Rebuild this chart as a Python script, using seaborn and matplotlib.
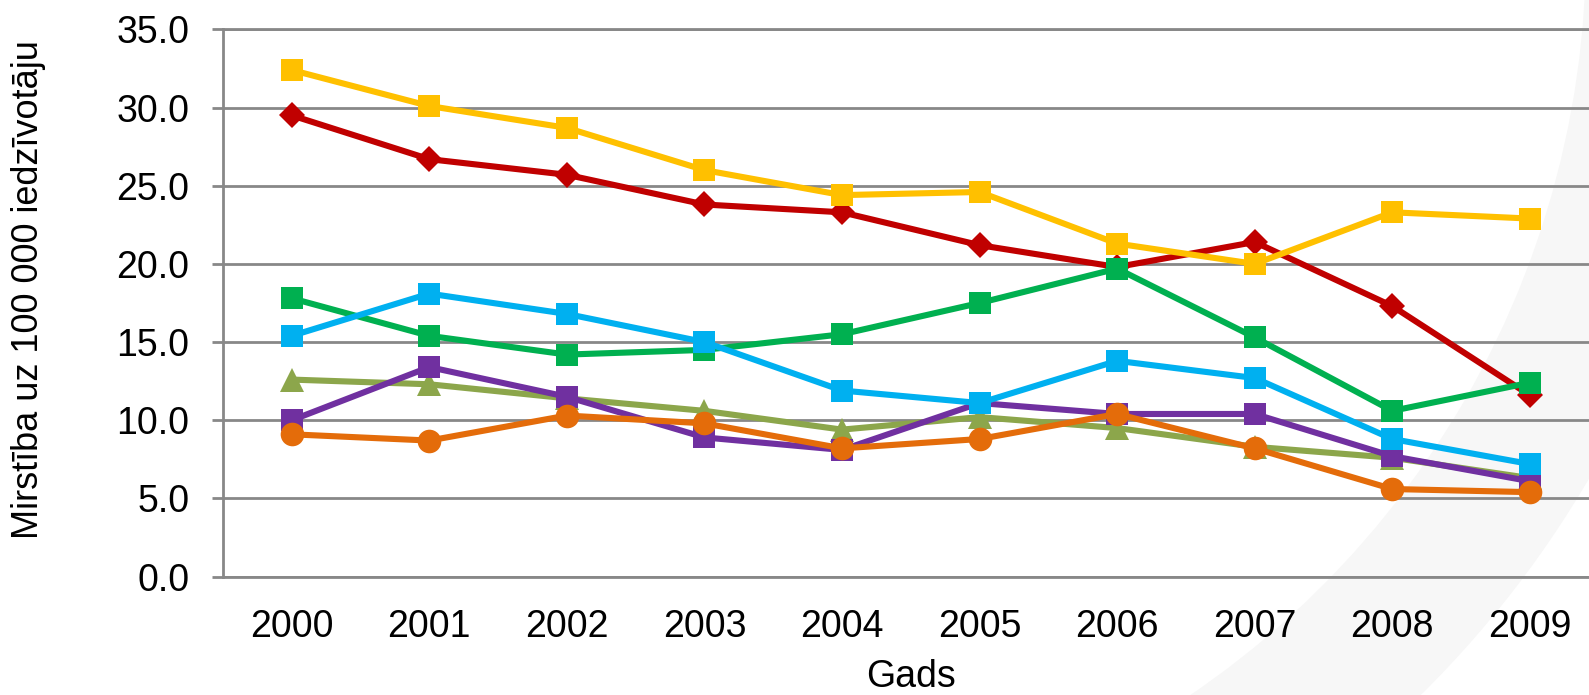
import matplotlib
matplotlib.use("Agg")
import matplotlib.pyplot as plt
import numpy as np
import pandas as pd
import seaborn as sns
from matplotlib.patches import Wedge
from matplotlib.transforms import IdentityTransform
from matplotlib.ticker import FormatStrFormatter

# Mortality per 100 000 inhabitants, 2000-2009
years = [2000, 2001, 2002, 2003, 2004, 2005, 2006, 2007, 2008, 2009]

red_series = [29.5, 26.7, 25.7, 23.8, 23.3, 21.2, 19.8, 21.4, 17.3, 11.6]
yellow_series = [32.4, 30.1, 28.7, 26.0, 24.4, 24.6, 21.3, 20.0, 23.3, 22.9]
green_series = [17.8, 15.4, 14.2, 14.5, 15.5, 17.5, 19.7, 15.3, 10.6, 12.4]
olive_series = [12.6, 12.3, 11.4, 10.6, 9.4, 10.2, 9.5, 8.3, 7.6, 6.3]
purple_series = [10.0, 13.4, 11.5, 8.9, 8.1, 11.1, 10.4, 10.4, 7.7, 6.1]
blue_series = [15.4, 18.1, 16.8, 15.0, 11.9, 11.1, 13.8, 12.7, 8.8, 7.2]
orange_series = [9.1, 8.7, 10.3, 9.8, 8.2, 8.8, 10.4, 8.2, 5.6, 5.4]

y_ticks = [0, 5, 10, 15, 20, 25, 30, 35]
y_label = "Mirstība uz 100 000 iedzīvotāju"
x_label = "Gads"

# (values, colour, marker, marker size) in drawing order
series = [
    (red_series, "#C00000", "D", 13.5),
    (yellow_series, "#FFC000", "s", 16.5),
    (green_series, "#00B050", "s", 16.5),
    (olive_series, "#8CA64B", "^", 17.5),
    (purple_series, "#7030A0", "s", 16.5),
    (blue_series, "#00B0F0", "s", 16.5),
    (orange_series, "#E46C0A", "o", 17),
]

sns.set_theme(style="white")
plt.rcParams["font.family"] = ["Liberation Sans", "DejaVu Sans"]

fig = plt.figure(figsize=(15.89, 6.95), dpi=100)
fig.patch.set_facecolor("white")

# faint decorative swoosh in the lower-right background
swoosh = Wedge((683, 747), 1050, -65, 5, width=147,
               facecolor="#F7F7F7", edgecolor="none",
               transform=IdentityTransform(), zorder=0)
fig.add_artist(swoosh)

ax = fig.add_axes([0.1403, 0.1704, 0.8597, 0.7873])
ax.set_facecolor("none")

for values, color, marker, ms in series:
    frame = pd.DataFrame({"year": years, "value": values})
    sns.lineplot(data=frame, x="year", y="value", ax=ax, color=color,
                 marker=marker, markersize=ms, markeredgecolor=color,
                 markeredgewidth=0, linewidth=4.4, legend=False)

grid_color = "#888888"
ax.set_ylim(0, 35)
ax.set_yticks(y_ticks)
ax.yaxis.set_major_formatter(FormatStrFormatter("%.1f"))
ax.set_xlim(1999.5, 2009.43)
ax.set_xticks(years)
ax.set_xticklabels([str(y) for y in years])

ax.yaxis.grid(True, color=grid_color, linewidth=2.0)
ax.xaxis.grid(False)
ax.set_axisbelow(True)

ax.spines["right"].set_visible(False)
for side in ["left", "top", "bottom"]:
    ax.spines[side].set_color(grid_color)
    ax.spines[side].set_linewidth(2.0)

ax.tick_params(axis="y", length=8, width=2.0, color=grid_color, pad=16,
               labelsize=27, labelcolor="black", left=True, direction="out")
ax.tick_params(axis="x", length=0, pad=23, labelsize=27, labelcolor="black")

ax.set_ylabel(y_label, fontsize=26, color="black", va="center")
ax.yaxis.set_label_coords(-0.142, 0.524)
ax.set_xlabel(x_label, fontsize=27, color="black", va="center")
ax.xaxis.set_label_coords(0.504, -0.183)

fig.savefig("out.png", dpi=100, facecolor="white")
